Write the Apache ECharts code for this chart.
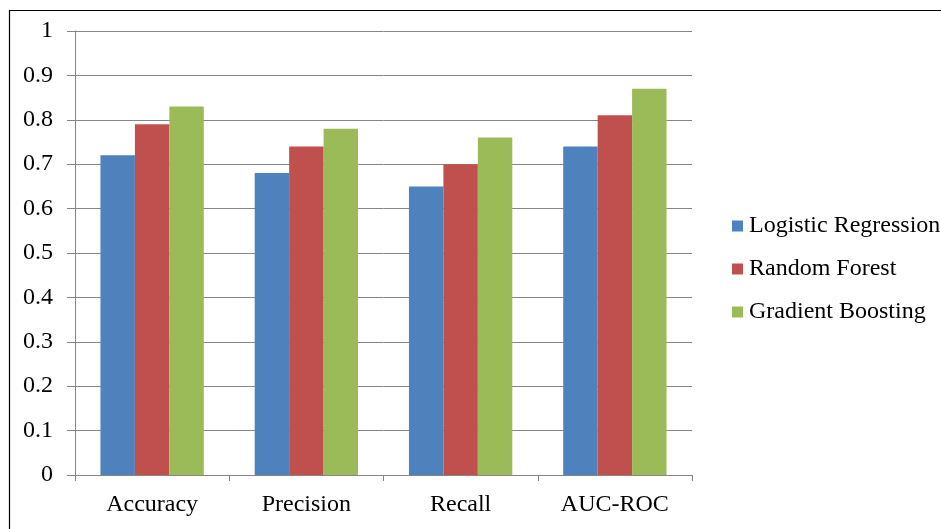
<!DOCTYPE html>
<html>
<head>
<meta charset="utf-8">
<script src="https://cdn.jsdelivr.net/npm/echarts@6/dist/echarts.min.js"></script>
<style>
  html, body { margin: 0; padding: 0; background: #fff; }
  #chart { width: 941px; height: 529px; }
</style>
</head>
<body>
<div id="chart"></div>
<script>
// Model comparison across evaluation metrics
const categories = ['Accuracy', 'Precision', 'Recall', 'AUC-ROC'];
const logisticRegression = [0.72, 0.68, 0.65, 0.74];
const randomForest = [0.79, 0.74, 0.70, 0.81];
const gradientBoosting = [0.83, 0.78, 0.76, 0.87];
const seriesNames = ['Logistic Regression', 'Random Forest', 'Gradient Boosting'];
const seriesColors = ['#4F81BD', '#C0504D', '#9BBB59'];

const font = '"Liberation Serif", "Times New Roman", serif';
const chart = echarts.init(document.getElementById('chart'), null, { renderer: 'canvas' });

const values = [logisticRegression, randomForest, gradientBoosting];

chart.setOption({
  animation: false,
  backgroundColor: '#fff',
  graphic: [{
    type: 'rect',
    shape: { x: 9.5, y: 10.5, width: 1000, height: 1000 },
    style: { fill: 'none', stroke: '#000', lineWidth: 1.2 },
    silent: true
  }],
  grid: { left: 75, right: 249, top: 31, bottom: 54 },
  legend: {
    orient: 'vertical',
    left: 732,
    top: 214,
    padding: 0,
    itemWidth: 11,
    itemHeight: 11,
    itemGap: 19,
    icon: 'rect',
    textStyle: { fontFamily: font, fontSize: 24, lineHeight: 24, color: '#000', padding: [0, 0, 0, 1] },
    data: seriesNames
  },
  xAxis: {
    type: 'category',
    data: categories,
    axisLine: { lineStyle: { color: '#868686', width: 1 } },
    axisTick: { show: true, length: 6, lineStyle: { color: '#868686' } },
    axisLabel: { fontFamily: font, fontSize: 24, color: '#000', margin: 18 }
  },
  yAxis: {
    type: 'value',
    min: 0,
    max: 1,
    interval: 0.1,
    axisLine: { show: true, lineStyle: { color: '#868686', width: 1 } },
    axisTick: { show: true, length: 8, lineStyle: { color: '#868686' } },
    axisLabel: { fontFamily: font, fontSize: 24, color: '#000', margin: 22,
      formatter: v => String(Math.round(v * 10) / 10) },
    splitLine: { lineStyle: { color: '#868686', width: 1 } }
  },
  series: seriesNames.map((name, i) => ({
    name,
    type: 'bar',
    data: values[i],
    barGap: '0%',
    barCategoryGap: '33%',
    itemStyle: { color: seriesColors[i] }
  }))
});
</script>
</body>
</html>
